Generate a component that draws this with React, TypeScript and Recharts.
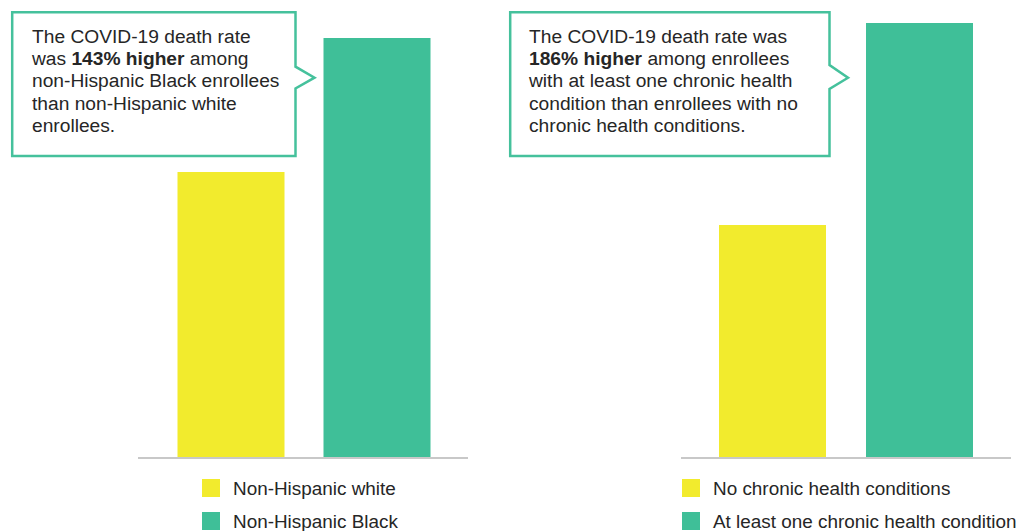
import React from 'react';
import { BarChart, Bar, XAxis, YAxis, Cell } from 'recharts';

const raceCategories = ['Non-Hispanic white', 'Non-Hispanic Black'];
const raceValues = [286, 420];
const chronicCategories = ['No chronic health conditions', 'At least one chronic health condition'];
const chronicValues = [233, 435];
const barColors = ['#f2eb2d', '#3fbf98'];
const yDomain = [0, 450];

const FONT = '"Liberation Sans", Arial, Helvetica, sans-serif';
const TEXT = '#262626';

type PanelProps = {
  left: number;
  width: number;
  categories: string[];
  values: number[];
  marginLeft: number;
  marginRight: number;
  padLeft: number;
  padRight: number;
};

function Panel({ left, width, categories, values, marginLeft, marginRight, padLeft, padRight }: PanelProps) {
  const data = categories.map((c, i) => ({ name: c, value: values[i] }));
  return (
    <div style={{ position: 'absolute', left, top: 0 }}>
      <BarChart
        width={width}
        height={531}
        data={data}
        margin={{ top: 8, right: marginRight, bottom: 43, left: marginLeft }}
        barSize={107}
      >
        <XAxis
          dataKey="name"
          height={30}
          tick={false}
          tickLine={false}
          axisLine={{ stroke: '#c8c8c8', strokeWidth: 2 }}
          padding={{ left: padLeft, right: padRight }}
        />
        <YAxis hide domain={yDomain} />
        <Bar dataKey="value" isAnimationActive={false}>
          {data.map((d, i) => (
            <Cell key={d.name} fill={barColors[i]} />
          ))}
        </Bar>
      </BarChart>
    </div>
  );
}

function LegendBlock({ left, textLeft, categories }: { left: number; textLeft: number; categories: string[] }) {
  return (
    <>
      {categories.map((c, i) => (
        <div key={c}>
          <div
            style={{
              position: 'absolute',
              left,
              top: 479 + i * 33,
              width: 18,
              height: 18,
              background: barColors[i],
            }}
          />
          <div
            style={{
              position: 'absolute',
              left: textLeft,
              top: 479.5 + i * 33,
              height: 18,
              lineHeight: '18px',
              fontSize: 18.9,
              fontFamily: FONT,
              color: TEXT,
              whiteSpace: 'nowrap',
            }}
          >
            {c}
          </div>
        </div>
      ))}
    </>
  );
}

function CalloutText({ left, children }: { left: number; children: React.ReactNode }) {
  return (
    <div
      style={{
        position: 'absolute',
        left,
        top: 26,
        fontSize: 19.2,
        lineHeight: '22.2px',
        fontFamily: FONT,
        color: TEXT,
        whiteSpace: 'nowrap',
      }}
    >
      {children}
    </div>
  );
}

export default function App() {
  return (
    <div style={{ position: 'absolute', left: 0, top: 0, width: 1031, height: 531, background: '#fff', overflow: 'hidden' }}>
      <Panel
        left={0}
        width={480}
        categories={raceCategories}
        values={raceValues}
        marginLeft={138}
        marginRight={12}
        padLeft={19.5}
        padRight={18.5}
      />
      <Panel
        left={520}
        width={511}
        categories={chronicCategories}
        values={chronicValues}
        marginLeft={161}
        marginRight={20}
        padLeft={18}
        padRight={18}
      />
      <svg width={1031} height={531} style={{ position: 'absolute', left: 0, top: 0, pointerEvents: 'none' }}>
        <path
          d="M12.2,12.2 H295.5 V66.7 L314.5,77.7 L295.5,88.5 V156 H12.2 Z"
          fill="#fff"
          stroke="#45c19c"
          strokeWidth={2.5}
        />
        <path
          d="M510.2,12.2 H829.5 V65 L848,77.7 L829.5,89 V156 H510.2 Z"
          fill="#fff"
          stroke="#45c19c"
          strokeWidth={2.5}
        />
      </svg>
      <CalloutText left={32}>
        The COVID-19 death rate
        <br />
        was <b>143% higher</b> among
        <br />
        non-Hispanic Black enrollees
        <br />
        than non-Hispanic white
        <br />
        enrollees.
      </CalloutText>
      <CalloutText left={529}>
        The COVID-19 death rate was
        <br />
        <b>186% higher</b> among enrollees
        <br />
        with at least one chronic health
        <br />
        condition than enrollees with no
        <br />
        chronic health conditions.
      </CalloutText>
      <LegendBlock left={202} textLeft={233} categories={raceCategories} />
      <LegendBlock left={682} textLeft={713} categories={chronicCategories} />
    </div>
  );
}
